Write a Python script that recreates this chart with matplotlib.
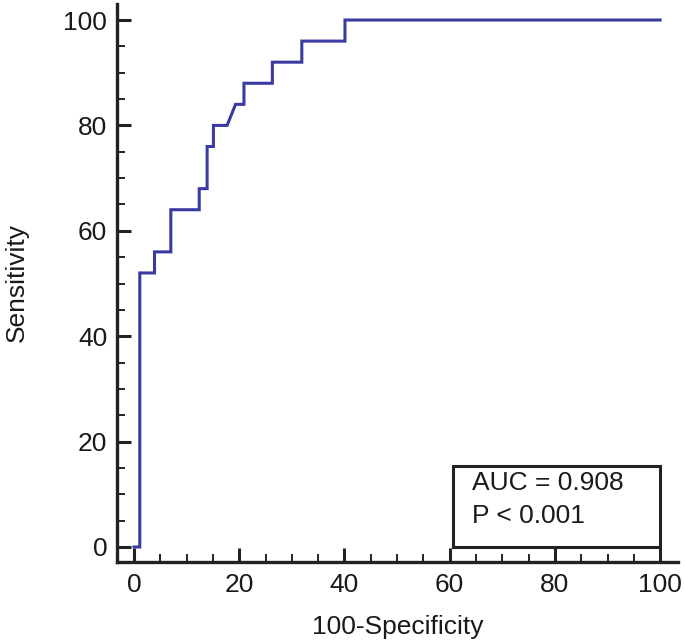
import matplotlib
matplotlib.use("Agg")
import matplotlib.pyplot as plt
from matplotlib.patches import Rectangle
from matplotlib.ticker import MultipleLocator

plt.rcParams['font.family'] = ['Liberation Sans', 'DejaVu Sans']

# ROC curve points (100-Specificity, Sensitivity)
fpr = [0, 1.1, 1.1, 3.9, 3.9, 7.0, 7.0, 12.4, 12.4, 13.9, 13.9, 15.1, 15.1,
       17.7, 19.3, 20.9, 20.9, 26.3, 26.3, 31.9, 31.9, 40.1, 40.1, 100]
tpr = [0, 0, 52, 52, 56, 56, 64, 64, 68, 68, 76, 76, 80,
       80, 84, 84, 88, 88, 92, 92, 96, 96, 100, 100]
x_ticks = [0, 20, 40, 60, 80, 100]
y_ticks = [0, 20, 40, 60, 80, 100]
stats_text = ["AUC = 0.908", "P < 0.001"]

fig = plt.figure(figsize=(6.85, 6.43), dpi=100)
ax = fig.add_axes([117/685, 81/643, (678-117)/685, (562-4)/643])

ax.plot(fpr, tpr, color='#3a3aa3', lw=2.2, solid_joinstyle='miter')

ax.set_xlim(-3.23, 103.4)
ax.set_ylim(-2.85, 103.04)
for s in ['top', 'right']:
    ax.spines[s].set_visible(False)
for s in ['left', 'bottom']:
    ax.spines[s].set_linewidth(2.4)
    ax.spines[s].set_color('#222222')

ax.set_xticks(x_ticks)
ax.set_yticks(y_ticks)
ax.xaxis.set_minor_locator(MultipleLocator(5))
ax.yaxis.set_minor_locator(MultipleLocator(5))
ax.tick_params(which='major', direction='in', length=10, width=2.2, color='#222222',
               labelsize=19, labelcolor='#1a1a1a')
ax.tick_params(which='minor', direction='in', length=5.5, width=1.4, color='#222222')
ax.tick_params(axis='x', which='major', pad=8)
ax.tick_params(axis='y', which='major', pad=7)

ax.set_xlabel('100-Specificity', fontsize=19, color='#1a1a1a', labelpad=13)
ax.set_ylabel('Sensitivity', fontsize=19, color='#1a1a1a', labelpad=25)

ax.add_patch(Rectangle((60.6, 0), 39.4, 15.4, fill=False, lw=2.2,
                       edgecolor='#222222', clip_on=False, zorder=3))
ax.text(64.3, 12.1, stats_text[0], fontsize=19, va='center', ha='left', color='#1a1a1a')
ax.text(64.3, 5.9, stats_text[1], fontsize=19, va='center', ha='left', color='#1a1a1a')

fig.savefig('out.png', dpi=100)
